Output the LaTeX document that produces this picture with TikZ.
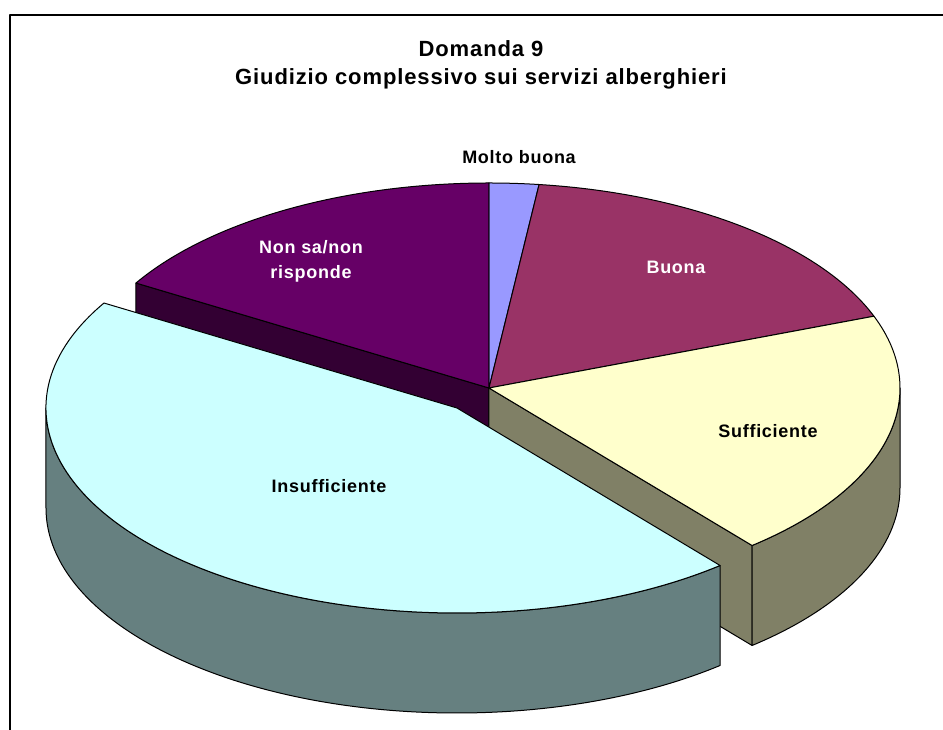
\documentclass[tikz,border=0pt]{standalone}
\usepackage{fontspec}
\setmainfont{Liberation Sans}
\newfontfamily\chartfont[LetterSpace=4]{Liberation Sans}
\definecolor{molto}{HTML}{9999FF}
\definecolor{buona}{HTML}{993366}
\definecolor{suff}{HTML}{FFFFCC}
\definecolor{suffside}{HTML}{808066}
\definecolor{insuff}{HTML}{CCFFFF}
\definecolor{insuffside}{HTML}{668080}
\definecolor{nonsa}{HTML}{660066}
\definecolor{nonsaside}{HTML}{330033}

\begin{document}
\begin{tikzpicture}[x=1pt, y=1pt, line join=round,
slice/.style={draw=black, line width=1pt},
pie/.style={x radius=411, y radius=205},
charttitle/.style={font=\fontsize{22}{26}\selectfont\chartfont\bfseries, anchor=base, inner sep=0pt},
slicelabel/.style={font=\fontsize{18}{25}\selectfont\chartfont\bfseries, anchor=base, inner sep=0pt}]
  \useasboundingbox (-489,-342) rectangle (454,388);
  % frame
  \draw[line width=1.2pt] (-479,-342) -- (-479,373) -- (454,373);
  % pie centre and exploded centre
  \coordinate (C) at (0,0);
  \coordinate (E) at (-32,-20);

  % side faces
  \filldraw[slice, fill=nonsaside] (C) -- (149.2:411 and 205) -- ++(0,-100) -- (0,-100) -- cycle;
  \filldraw[slice, fill=suffside] (C) -- (-50.2:411 and 205) -- ++(0,-100) -- (0,-100) -- cycle;
  \filldraw[slice, fill=suffside] (0:411 and 205) -- ++(0,-100)
    arc[pie, start angle=0, end angle=-50.2] -- ++(0,100)
    arc[pie, start angle=-50.2, end angle=0] -- cycle;

  % top faces
  \foreach \from/\to/\col in {90/83/molto, 83/20.5/buona, 20.5/-50.2/suff, 149.2/90/nonsa}
    \filldraw[slice, fill=\col] (C) -- (\from:411 and 205) arc[pie, start angle=\from, end angle=\to] -- cycle;

  % exploded slice
  \begin{scope}[shift={(E)}]
    \filldraw[slice, fill=insuffside] (180:411 and 205) -- ++(0,-100)
      arc[pie, start angle=180, end angle=309.8] -- ++(0,100)
      arc[pie, start angle=309.8, end angle=180] -- cycle;
    \filldraw[slice, fill=insuff] (0,0) -- (149.2:411 and 205) arc[pie, start angle=149.2, end angle=309.8] -- cycle;
  \end{scope}

  % title
  \node[charttitle] (t1) at (-8,331) {Domanda 9};
  \node[charttitle] (t2) at (-8,303) {Giudizio complessivo sui servizi alberghieri};
  % slice labels
  \node[slicelabel] (lmolto) at (30,224) {Molto buona};
  \node[slicelabel, text=white] (lbuona) at (187,114) {Buona};
  \node[slicelabel] (lsuff) at (279,-50) {Sufficiente};
  \node[slicelabel] (linsuff) at (-160,-105) {Insufficiente};
  \node[slicelabel, text=white, align=center, anchor=center] (lnonsa) at (-178,127) {Non sa/non\\risponde};
\end{tikzpicture}
\end{document}
